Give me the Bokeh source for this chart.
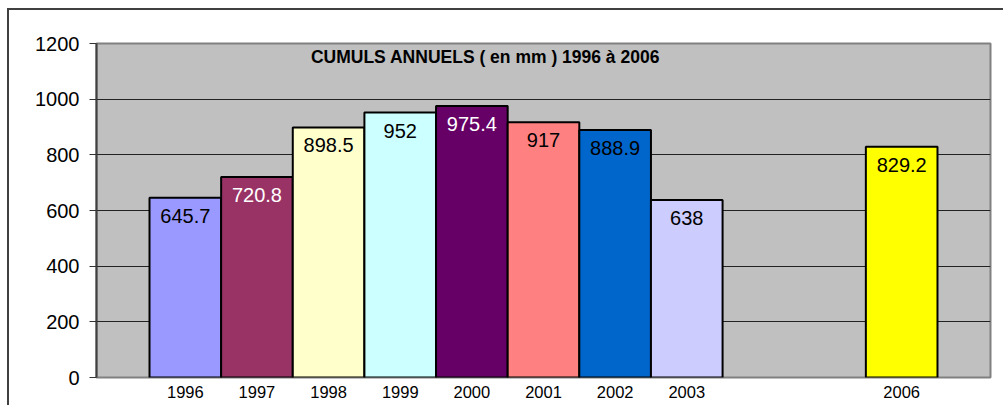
from bokeh.plotting import figure
from bokeh.models import ColumnDataSource, LabelSet, Label, FixedTicker, Range1d
from bokeh.core.properties import value
from bokeh.embed import file_html
from bokeh.resources import INLINE

# ---- data ----
all_years = ["1996", "1997", "1998", "1999", "2000", "2001", "2002", "2003", "2004", "2005", "2006"]
years = ["1996", "1997", "1998", "1999", "2000", "2001", "2002", "2003", "2006"]
values = [645.7, 720.8, 898.5, 952, 975.4, 917, 888.9, 638, 829.2]
colors = ["#9999FF", "#993366", "#FFFFCC", "#CCFFFF", "#660066", "#FF8080", "#0066CC", "#CCCCFF", "#FFFF00"]
label_colors = ["black", "white", "black", "black", "white", "black", "black", "black", "black"]
y_ticks = [0, 200, 400, 600, 800, 1000, 1200]
title_text = "CUMULS ANNUELS ( en mm ) 1996 à 2006"

xpos = [all_years.index(y) for y in years]
labels = [("%g" % v) for v in values]

src = ColumnDataSource(dict(x=xpos, top=values, color=colors, lab=labels, lc=label_colors))

FONT = "Liberation Sans"

p = figure(width=996, height=397, output_backend="svg", toolbar_location=None,
           x_range=Range1d(-1.24, len(all_years) - 1 + 1.24), y_range=Range1d(0, 1200),
           min_border_left=87, min_border_top=33, min_border_right=15, min_border_bottom=30)
p.styles = {"border-left": "2px solid #404040", "border-top": "2px solid #404040",
            "margin-left": "7px", "margin-top": "8px"}

p.background_fill_color = "#C0C0C0"
p.border_fill_color = "white"
p.outline_line_color = "#808080"
p.outline_line_width = 2

p.vbar(x="x", top="top", width=1.0, bottom=0, source=src, fill_color="color",
       line_color="black", line_width=2)

p.add_layout(LabelSet(x="x", y="top", text="lab", source=src, text_color="lc",
                      text_font=value(FONT), text_font_size="20px", text_align="center",
                      text_baseline="alphabetic", y_offset=-25))

p.add_layout(Label(x=4.19, y=1152, text=title_text, text_font=FONT, text_font_size="17.5px",
                   text_font_style="bold", text_align="center", text_baseline="alphabetic",
                   text_color="black"))

# y axis
p.yaxis.ticker = FixedTicker(ticks=y_ticks)
p.yaxis.major_label_text_font = FONT
p.yaxis.major_label_text_font_size = "20px"
p.yaxis.major_label_text_color = "black"
p.yaxis.major_tick_in = 0
p.yaxis.major_tick_out = 7
p.yaxis.major_tick_line_color = "#333333"
p.yaxis.minor_tick_line_color = None
p.yaxis.axis_line_color = "#404040"
p.yaxis.axis_line_width = 2
p.yaxis.major_label_standoff = 10

# x axis
p.xaxis.ticker = FixedTicker(ticks=xpos)
p.xaxis.major_label_overrides = {x: y for x, y in zip(xpos, years)}
p.xaxis.major_label_text_font = FONT
p.xaxis.major_label_text_font_size = "16.5px"
p.xaxis.major_label_text_color = "black"
p.xaxis.major_tick_line_color = None
p.xaxis.minor_tick_line_color = None
p.xaxis.axis_line_color = None
p.xaxis.major_label_standoff = 2

p.xgrid.grid_line_color = None
p.ygrid.ticker = FixedTicker(ticks=y_ticks[1:-1])
p.ygrid.grid_line_color = "#222222"
p.ygrid.grid_line_width = 1

open("out.html", "w").write(file_html(p, INLINE))
